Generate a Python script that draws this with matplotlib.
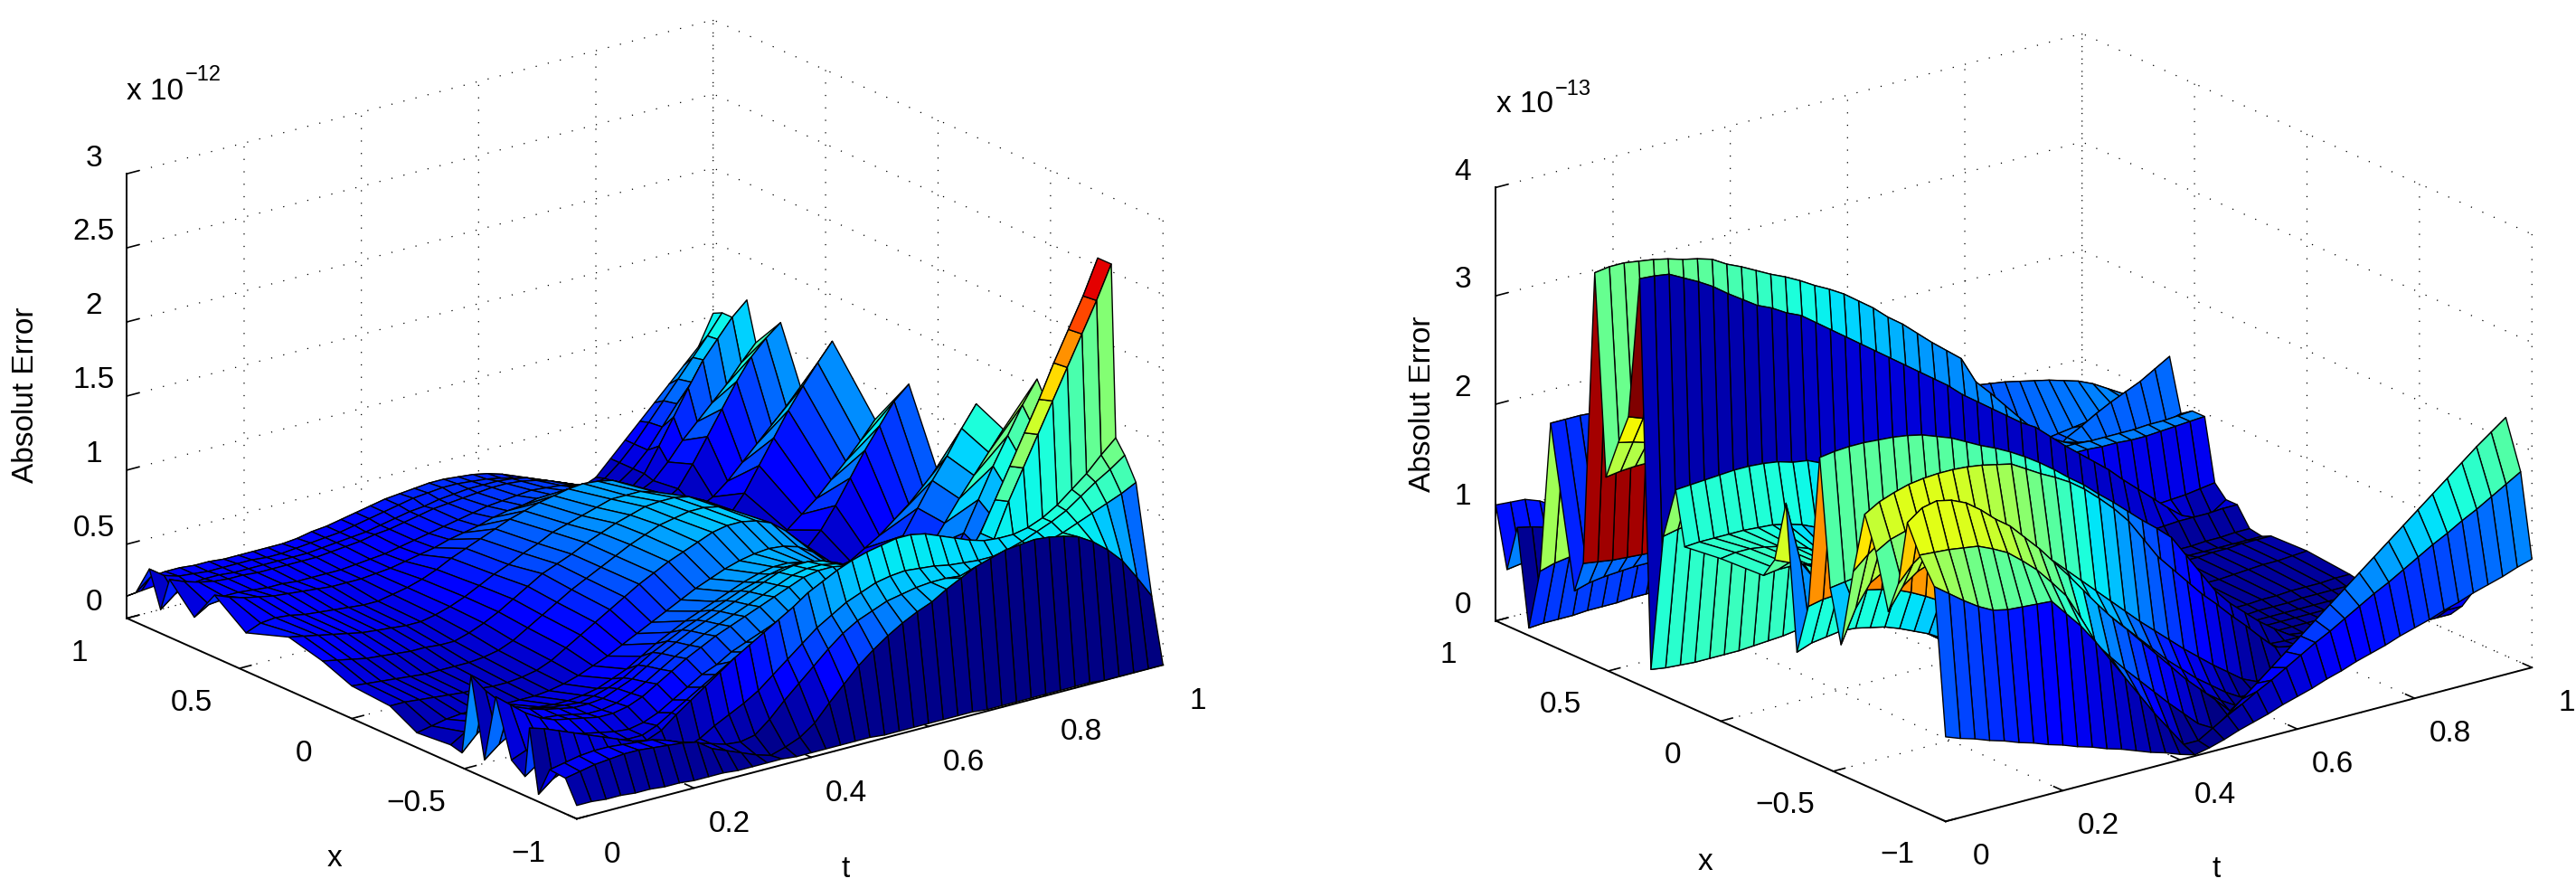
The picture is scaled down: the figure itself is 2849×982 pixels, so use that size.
import numpy as np
import matplotlib
matplotlib.use('Agg')
import matplotlib.pyplot as plt

plt.rcParams['font.family'] = ['Liberation Sans', 'DejaVu Sans']

t_vals = [0, .025, .05, .075, .1, .125, .15, .175, .2, .225,
          .25, .275, .3, .325, .35, .375, .4, .425, .45, .475,
          .5, .525, .55, .575, .6, .625, .65, .675, .7, .725,
          .75, .775, .8, .825, .85, .875, .9, .925, .95, .975, 1]

t_ticks = [0, .2, .4, .6, .8, 1]
t_ticklabels = ['0', '0.2', '0.4', '0.6', '0.8', '1']
x_ticks = [-1, -.5, 0, .5, 1]
x_ticklabels = ['\u22121', '\u22120.5', '0', '0.5', '1']

# left panel, rows are x, columns are t, values in 0.01 x 1e-12
x_left = [-1, -.95, -.88, -.83, -.79, -.77, -.71, -.64, -.59, -.53, -.49, -.44, -.29,
          -.17, 0, .13, .28, .47, .61, .70, .81, .85, .90, .96, 1]
z_left = [
    [9,9,8,8,7,7,6,6,5,5, 5,4,4,4,4,3,3,3,3,3, 3,2,2,2,2,2,2,2,1,1, 1,1,1,1,1,1,0,0,0,0, 0],
    [24,26,28,29,30,30,29,28,27,25, 18,14,10,6,3,6,10,17,28,38, 48,56,63,69,74,78,84,89,94,97, 100,101,102,101,99,96,90,82,72,58, 43],
    [25,27,29,30,30,29,28,27,24,20, 17,14,11,10,12,20,30,39,48,57, 65,71,75,79,81,83,84,84,83,82, 82,83,85,88,91,94,98,102,106,110, 115],
    [5,13,17,20,20,19,18,16,13,10, 10,14,20,25,30,36,44,52,60,68, 74,80,84,88,90,91,90,89,87,86, 85,85,87,90,94,98,103,110,117,123, 130],
    [47,44,40,36,32,28,24,20,18,22, 30,37,44,51,58,64,70,76,82,89, 94,99,103,106,108,110,110,108,104,100, 96,93,92,92,94,98,104,112,120,130, 139],
    [13,20,24,26,26,24,22,20,20,24, 30,36,42,48,54,58,62,66,70,74, 77,80,82,84,85,85,84,82,80,78, 78,80,90,113,133,153,173,193,213,233, 255],
    [20,24,26,27,27,25,23,21,20,22, 26,32,38,44,48,54,58,62,66,70, 73,76,78,80,80,78,76,72,68,66, 68,76,90,110,130,150,170,192,212,232, 255],
    [58,50,42,36,32,30,28,26,26,28, 32,38,44,50,55,60,64,68,72,76, 80,84,86,86,84,80,74,66,56,46, 36,30,26,28,34,42,52,62,72,82, 90],
    [12,20,26,30,30,29,27,25,25,27, 31,36,42,48,53,58,62,66,70,74, 78,82,84,84,82,78,72,64,54,44, 34,26,22,24,30,38,46,56,68,78, 90],
    [65,52,42,36,32,29,27,25,25,26, 30,34,40,46,51,56,60,64,68,72, 76,80,82,82,80,76,70,62,52,42, 32,26,24,32,44,60,76,90,104,118, 130],
    [10,20,28,30,29,27,25,24,23,25, 28,32,38,44,49,54,58,62,66,70, 73,76,78,78,76,72,66,58,48,38, 28,22,22,30,44,60,78,95,112,128, 140],
    [12,18,22,24,24,23,22,21,21,22, 24,28,32,38,44,49,54,58,62,66, 70,73,75,75,73,70,64,56,46,36, 26,20,20,30,46,64,84,104,122,140, 155],
    [10,12,14,15,15,15,14,14,14,15, 17,20,24,28,33,38,43,48,53,58, 62,66,69,71,72,71,68,62,54,44, 34,26,20,22,32,44,58,72,85,98, 111],
    [20,20,19,18,17,16,16,15,15,16, 18,22,28,34,40,46,52,58,63,68, 72,76,80,82,82,80,76,68,58,47, 36,26,20,20,30,44,60,76,90,106, 120],
    [22,21,20,19,18,17,17,17,17,18, 20,24,30,36,42,48,53,58,63,68, 72,76,78,80,80,78,73,66,56,46, 35,26,20,16,18,24,30,38,46,54, 62],
    [30,28,26,24,23,22,21,21,20,20, 23,27,32,38,44,50,54,58,63,67, 71,74,77,78,78,76,71,64,54,44, 34,25,20,20,30,44,60,76,90,104, 113],
    [36,34,32,30,28,26,25,24,23,23, 25,28,32,37,42,46,51,55,60,63, 66,69,72,72,72,69,64,57,48,38, 29,22,18,16,20,28,36,46,56,67, 79],
    [26,30,31,30,28,27,26,25,24,24, 26,28,31,35,40,44,48,52,56,59, 62,64,66,67,66,64,59,52,44,36, 28,22,18,20,32,48,64,80,94,107, 119],
    [42,38,35,33,31,30,29,28,27,27, 27,28,29,31,33,35,38,40,42,45, 47,48,50,50,50,49,46,42,37,31, 25,20,16,15,20,28,38,48,58,68, 78],
    [21,27,30,30,29,28,28,27,27,27, 27,28,29,30,32,34,36,38,40,42, 44,45,46,47,46,45,42,38,33,28, 23,18,16,22,36,52,68,84,98,108, 116],
    [39,35,32,30,29,29,28,28,28,28, 28,29,30,31,33,34,36,38,40,41, 42,43,44,44,43,41,38,34,30,25, 20,16,15,20,30,42,52,62,72,84, 95],
    [16,24,28,29,29,28,28,28,28,28, 28,29,30,31,32,34,36,38,39,41, 42,43,43,43,42,40,36,32,28,23, 18,15,14,22,38,55,72,88,100,112, 121],
    [40,33,30,29,28,28,28,28,27,27, 28,29,30,31,33,35,37,39,41,42, 43,43,42,41,39,36,32,28,24,20, 16,13,15,22,32,45,58,70,82,93, 105],
    [20,28,29,29,28,28,27,27,27,27, 27,28,30,31,33,35,37,39,40,41, 42,42,41,40,38,35,31,27,23,19, 15,12,14,22,32,44,56,68,80,92, 105],
    [15,16,17,17,16,16,16,16,16,16, 17,18,19,21,23,25,27,29,31,32, 33,34,34,33,32,30,27,23,19,15, 11,8,12,22,32,42,52,62,72,82, 102],
]

# right panel, values in 0.01 x 1e-13
x_right = [-1, -.95, -.884, -.83, -.79, -.745, -.69, -.64, -.59, -.535, -.487, -.44, -.39, -.339, -.29,
           -.24, -.19, 0, .16, .20, .255, .31, .36, .41, .455, .51, .56, .611, .65, .756, .803, .853,
           .904, .95, 1]
z_right = [
    [78,73,69,64,60,55,51,46,42,37, 33,28,24,19,14,10,5,1,4,8, 13,17,21,26,30,34,39,43,48,52, 56,61,65,69,74,78,83,87,91,96, 100],
    [212,202,192,183,176,173,172,171,170,155, 140,122,102,82,62,42,24,6,6,14, 22,29,37,44,52,60,68,75,83,91, 99,106,114,122,130,137,145,152,160,168, 176],
    [235,234,233,231,229,223,216,205,193,178, 162,138,111,95,80,66,52,38,25,12, 2,13,24,35,46,57,68,79,90,101, 112,123,134,145,156,167,178,189,200,210, 220],
    [260,270,273,270,264,254,242,232,218,204, 188,172,155,138,122,108,93,78,63,48, 35,22,8,4,10,18,26,33,40,47, 54,60,66,72,78,84,90,95,100,105, 110],
    [200,215,225,228,226,222,216,208,198,186, 172,158,143,128,114,100,86,72,58,46, 34,24,14,6,8,14,20,26,31,36, 40,44,48,52,56,58,60,62,64,66, 68],
    [170,190,200,205,208,209,208,205,200,192, 182,170,157,143,128,114,100,86,72,58, 46,34,24,14,6,6,10,14,18,22, 26,30,32,34,36,38,40,42,44,46, 48],
    [220,228,232,233,232,230,226,220,212,204, 194,182,170,157,144,131,118,105,92,80, 68,56,45,34,24,14,8,12,16,18, 20,22,24,26,28,28,28,28,28,28, 28],
    [250,258,263,267,269,270,270,269,267,264, 261,253,245,238,230,220,208,195,180,160, 140,125,110,95,82,68,55,41,28,25, 22,20,19,18,17,17,16,16,16,16, 16],
    [193,205,215,222,226,228,228,227,225,222, 218,213,207,200,192,183,172,160,147,133, 118,104,90,77,64,52,40,30,22,18, 15,14,13,13,12,12,12,12,12,12, 12],
    [120,150,170,178,180,180,178,177,175,172, 168,165,160,155,150,144,137,128,118,108, 96,84,72,60,50,40,30,22,16,12, 10,10,10,10,10,10,10,10,10,10, 10],
    [168,170,172,172,172,172,172,171,170,168, 166,163,160,156,152,146,140,132,122,112, 100,88,76,64,52,42,32,24,18,12, 10,9,9,9,9,9,9,9,9,9, 9],
    [284,286,287,287,286,285,283,280,275,270, 263,256,250,243,235,226,216,205,195,183, 172,160,148,137,125,105,85,65,50,38, 26,16,7,5,4,4,5,5,6,6, 7],
    [142,145,146,145,143,140,136,130,123,115, 105,95,85,75,65,55,46,38,30,24, 18,14,10,8,6,5,5,5,5,5, 6,6,6,6,6,6,6,6,6,6, 6],
    [95,100,102,104,103,100,97,92,86,80, 72,64,56,49,42,36,30,25,20,16, 12,10,8,6,5,5,5,5,5,5, 5,6,6,6,6,6,6,6,6,6, 6],
    [228,170,150,140,130,120,110,100,90,80, 70,60,50,42,36,30,25,20,16,13, 10,8,6,5,5,5,5,5,5,5, 5,6,6,6,6,6,6,6,6,6, 6],
    [171,165,160,152,145,135,125,115,105,95, 85,75,65,55,47,40,33,27,22,17, 13,10,8,6,5,5,5,5,5,5, 6,6,6,7,7,7,8,8,8,8, 9],
    [152,154,154,152,148,142,132,122,112,100, 90,80,70,60,52,44,38,32,26,20, 16,12,10,8,6,6,5,5,5,6, 6,7,8,8,9,9,10,10,10,11, 11],
    [150,152,152,150,147,143,138,130,118,106, 95,84,74,65,56,48,40,33,27,22, 17,13,10,8,7,6,6,6,6,7, 7,8,9,10,10,11,12,13,13,14, 15],
    [146,147,147,147,147,146,145,142,138,132, 124,116,106,94,84,74,64,55,46,38, 31,25,20,16,13,11,10,9,9,9, 10,10,11,11,12,12,13,13,14,14, 14],
    [195,196,197,198,199,199,198,196,192,190, 184,178,172,164,156,148,140,130,120,110, 100,90,80,70,60,50,42,34,26,20, 16,13,11,10,10,10,10,10,10,10, 10],
    [147,150,152,155,157,158,158,156,154,150, 146,140,134,128,120,112,104,96,88,78, 68,60,50,42,34,28,22,18,14,12, 10,10,10,10,10,10,10,11,11,12, 12],
    [19,17,16,15,15,15,15,16,17,18, 20,22,24,26,28,29,30,30,30,29, 28,27,26,25,24,23,22,22,22,23, 24,24,25,26,26,27,28,28,28,29, 29],
    [375,374,372,365,358,350,340,331,322,316, 308,302,292,282,272,262,252,242,232,222, 212,202,190,180,170,160,150,142,130,118, 107,96,85,72,60,48,36,25,15,20, 29],
    [243,238,232,226,220,213,206,198,190,182, 174,165,156,148,140,132,124,116,108,100, 92,85,78,72,66,60,56,52,48,44, 42,40,38,36,35,34,34,35,36,38, 40],
    [215,212,208,203,198,192,186,180,174,167, 160,153,146,139,132,125,118,112,106,100, 96,92,90,88,87,87,88,90,92,94, 95,95,95,94,94,93,93,94,95,96, 97],
    [178,180,181,181,180,178,175,172,168,164, 160,155,150,145,140,135,130,125,120,116, 112,108,104,101,99,97,96,95,95,95, 95,95,95,94,94,94,94,95,95,96, 97],
    [362,364,364,362,360,357,353,350,346,338, 332,325,318,312,305,297,290,282,272,262, 250,240,228,216,205,194,169,155,140,125, 110,100,92,88,85,84,83,83,84,86, 90],
    [89,87,85,84,83,82,81,80,79,78, 77,76,75,74,73,72,71,70,69,68, 67,66,66,66,66,66,67,68,69,70, 71,73,76,88,95,103,110,116,122,130, 138],
    [60,64,66,67,68,68,67,66,65,64, 63,62,62,62,62,62,62,62,62,63, 64,65,66,68,70,72,74,76,78,80, 82,84,86,88,90,92,94,96,98,99, 100],
    [205,205,205,204,203,202,200,198,196,194, 192,190,188,185,182,179,176,173,170,167, 164,161,158,155,152,149,146,143,139,137, 135,133,130,127,124,120,116,110,102,94, 85],
    [64,68,70,70,70,69,68,67,66,65, 64,63,62,61,60,59,58,57,56,55, 54,53,52,51,50,49,48,47,46,45, 44,43,42,41,40,38,36,34,32,30, 28],
    [7,8,8,8,9,9,9,10,10,10, 11,11,11,11,11,11,11,11,11,11, 11,11,11,11,11,11,11,11,11,11, 11,11,11,11,11,11,11,11,11,11, 11],
    [95,92,88,84,80,76,72,68,64,60, 56,52,48,44,40,36,33,30,27,24, 22,20,18,16,14,13,12,11,10,10, 10,10,10,10,10,10,10,10,10,10, 10],
    [52,54,55,55,54,52,50,48,46,44, 42,40,38,36,34,32,30,28,26,24, 22,20,18,16,15,14,13,12,11,10, 10,10,10,10,10,10,10,10,10,10, 10],
    [107,106,105,100,92,85,78,72,66,60, 55,50,45,40,36,32,28,25,22,19, 16,14,12,10,8,7,6,5,5,5, 5,5,5,5,5,5,5,5,5,5, 5],
]

W, H = 2849, 982
S = 1500


def panel(cx, cy, x_vals, z_vals, zmax, zticks, zticklabels, z_aspect):
    # cx, cy = pixel position of the box centre
    ax = fig.add_axes([(cx - S / 2) / W, (H - cy - S / 2) / H, S / W, S / H],
                      projection='3d', proj_type='ortho', computed_zorder=False)
    ax.patch.set_alpha(0)
    ax.view_init(elev=20, azim=-127.5)
    aspect = np.array([1, 1, z_aspect])
    zoom = 840 * 1.8 / (S * 1.8294640721620434 * 25 / 24 / np.linalg.norm(aspect))
    ax.set_box_aspect(aspect, zoom=zoom)

    T, X = np.meshgrid(t_vals, x_vals)
    Z = np.array(z_vals) / 100.0
    colors = plt.cm.jet(Z / Z.max())
    # one strip per x row, far rows first, so tall folds cover what is behind them
    for i in range(len(x_vals) - 1):
        ax.plot_surface(T[i:i + 2], X[i:i + 2], Z[i:i + 2], rstride=1, cstride=1,
                        facecolors=colors[i:i + 2], edgecolor='k', linewidth=1.0,
                        shade=False, antialiased=True, zorder=len(x_vals) - i)

    ax.set_xlim(0, 1, view_margin=0)
    ax.set_ylim(-1, 1, view_margin=0)
    ax.set_zlim(0, zmax, view_margin=0)
    ax.set_xticks(t_ticks, t_ticklabels)
    ax.set_yticks(x_ticks, x_ticklabels)
    ax.set_zticks(zticks, zticklabels)
    ax.zaxis.set_ticks_position('upper')

    for axis in (ax.xaxis, ax.yaxis, ax.zaxis):
        axis.set_pane_color((1, 1, 1, 0))
        axis.pane.set_edgecolor('none')
        axis.line.set_color('k')
        axis.line.set_linewidth(1.4)
        axis._axinfo['grid'].update(color='k', linewidth=0.9, linestyle=(0, (1, 10)))
        axis._axinfo['tick'].update(inward_factor=0.0, outward_factor=0.25, linewidth={True: 1.2, False: 1.2})
        for tick in axis.get_major_ticks():
            tick.label1.set_va('bottom')
    ax.tick_params(axis='x', labelsize=24, pad=36)
    ax.tick_params(axis='y', labelsize=24, pad=38)
    ax.tick_params(axis='z', labelsize=24, pad=10)
    return ax


def label(px, py, s, **kw):
    fig.text(px / W, 1 - py / H, s, ha='center', va='center', **kw)


fig = plt.figure(figsize=(W / 100, H / 100), dpi=100)

panel(693, 484, x_left, z_left, 3, [0, .5, 1, 1.5, 2, 2.5, 3],
      ['0', '0.5', '1', '1.5', '2', '2.5', '3'], 0.64)
panel(2207, 493, x_right, z_right, 4, [0, 1, 2, 3, 4],
      ['0', '1', '2', '3', '4'], 0.624)

label(370, 950, 'x', fontsize=24)
label(935, 962, 't', fontsize=24)
label(29, 437, 'Absolut Error', fontsize=24, rotation=90)
label(172, 101, 'x 10', fontsize=24)
label(225, 83, '\u221212', fontsize=17)

label(1886, 953, 'x', fontsize=24)
label(2451, 962, 't', fontsize=24)
label(1573, 447, 'Absolut Error', fontsize=24, rotation=90)
label(1687, 116, 'x 10', fontsize=24)
label(1740, 99, '\u221213', fontsize=17)

fig.savefig('out.png', dpi=100)
